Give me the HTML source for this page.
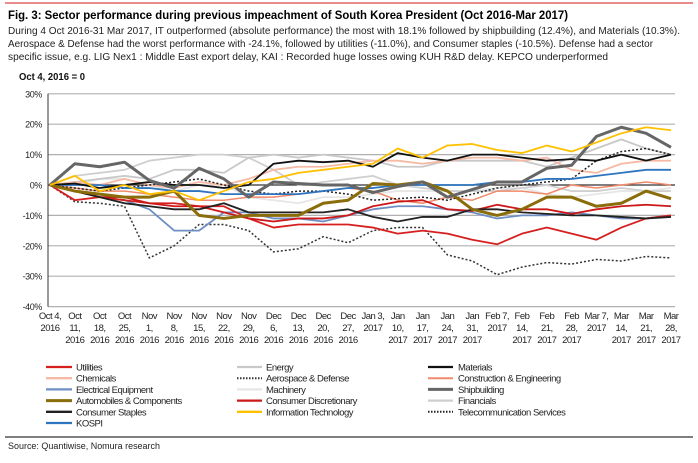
<!DOCTYPE html>
<html><head><meta charset="utf-8"><style>
body{margin:0;background:#fff;width:698px;height:458px;overflow:hidden;font-family:"Liberation Sans",Arial,sans-serif;}
</style></head><body>
<svg id="chart" width="698" height="458" xmlns="http://www.w3.org/2000/svg" font-family="Liberation Sans, Arial, sans-serif">
<line x1="5" y1="3" x2="693" y2="3" stroke="#e06666" stroke-width="1.5"/>
<text x="8" y="19" font-size="12" font-weight="bold" fill="#000" textLength="560" lengthAdjust="spacingAndGlyphs">Fig. 3: Sector performance during previous impeachment of South Korea President (Oct 2016-Mar 2017)</text>
<g font-size="10" fill="#222">
<text x="8" y="34" textLength="672" lengthAdjust="spacingAndGlyphs">During 4 Oct 2016-31 Mar 2017, IT outperformed (absolute performance) the most with 18.1% followed by shipbuilding (12.4%), and Materials (10.3%).</text>
<text x="8" y="47" textLength="645" lengthAdjust="spacingAndGlyphs">Aerospace &amp; Defense had the worst performance with -24.1%, followed by utilities (-11.0%), and Consumer staples (-10.5%). Defense had a sector</text>
<text x="8" y="60" textLength="600" lengthAdjust="spacingAndGlyphs">specific issue, e.g. LIG Nex1 : Middle East export delay, KAI : Recorded huge losses owing KUH R&amp;D delay.  KEPCO underperformed</text>
</g>
<text x="19" y="80" font-size="10" font-weight="bold" fill="#111" textLength="66" lengthAdjust="spacingAndGlyphs">Oct 4, 2016 = 0</text>
<g id="grid"></g><g id="yticks"></g><g id="xticks"></g><g id="series"></g><g id="legend"></g>
<line x1="5" y1="437" x2="693" y2="437" stroke="#555" stroke-width="1.5"/>
<text x="8" y="449" font-size="9" fill="#222" textLength="152" lengthAdjust="spacingAndGlyphs">Source: Quantiwise, Nomura research</text>
</svg>
<script>
const yTicks=[30,20,10,0,-10,-20,-30,-40];
const yTickLabels=["30%","20%","10%","0%","-10%","-20%","-30%","-40%"];
const xLabels=[["Oct 4,","2016"],["Oct","11,","2016"],["Oct","18,","2016"],["Oct","25,","2016"],["Nov","1,","2016"],["Nov","8,","2016"],["Nov","15,","2016"],["Nov","22,","2016"],["Nov","29,","2016"],["Dec","6,","2016"],["Dec","13,","2016"],["Dec","20,","2016"],["Dec","27,","2016"],["Jan 3,","2017"],["Jan","10,","2017"],["Jan","17,","2017"],["Jan","24,","2017"],["Jan","31,","2017"],["Feb 7,","2017"],["Feb","14,","2017"],["Feb","21,","2017"],["Feb","28,","2017"],["Mar 7,","2017"],["Mar","14,","2017"],["Mar","21,","2017"],["Mar","28,","2017"]];
const seriesNames=["Utilities","Energy","Materials","Chemicals","Aerospace & Defense","Construction & Engineering","Electrical Equipment","Machinery","Shipbuilding","Automobiles & Components","Consumer Discretionary","Financials","Consumer Staples","Information Technology","Telecommunication Services","KOSPI"];
const utilities=[0,-5,-4,-5,-6,-6,-7,-7,-11,-14,-13,-13,-13,-14,-16,-15,-16,-18,-19.5,-16,-14,-16,-18,-14,-11,-10];
const energy=[0,1,2,3,2,5,5,4,9,10,9,10,9,8,6,6,8,8,8,8,6,9,12,15,12,10];
const materials=[0,0.5,-1,0,1,0,0,-1,0,7,8,7.5,8,6,10.5,9,8,10,10,9,8,8.5,8,10,8,10];
const chemicals=[0,1,0,2,0,-1,1,0,2,5,6,6,7,8,8,7,8,9,9,8,9,5,4,7,8,8];
const aerospace=[0,-5.5,-6,-7,-24,-20,-13,-13,-15,-22,-21,-17,-19,-15,-14,-14,-23,-25,-29.5,-27,-25.5,-26,-24.5,-25,-23.5,-24];
const construction=[0,-1,-2,-2,-3,-4,-5,-5,-4,-4,-3,-2,-1,-2,-5,-6,-4,-5,-2,-2,-3,0,-1,0,1,0];
const electrical=[0,-2,-4,-5,-8,-15,-15,-9,-9,-11,-11,-12,-10,-8,-7,-7,-8,-9,-11,-10,-10,-9,-10,-11,-11,-10];
const machinery=[0,0,2,2,0,-2,0,0,-4,-5,-6,-4,-4,-3,-2,-2,-2,-2,-1,-1,-3,-4,-3,-2,-2,-1];
const shipbuilding=[0,7,6,7.5,1.5,-1,5.5,2,-4,1,0.5,0,0,-2.5,-0.5,1,-4,-1.5,1,1,5.5,6.5,16,19,17,12.4];
const autos=[0,-2,-3,-4,-4,-2,-10,-11,-10,-10,-10,-6,-5,0.5,0,1,-2,-8,-10,-8,-4,-4,-7,-6,-2,-4.5];
const discretionary=[0,-2,-4,-4,-6,-7,-7,-9,-11,-12,-11,-11,-10,-7,-5.5,-5,-8,-8.5,-6.5,-8,-8,-9.5,-8,-7,-6.5,-7];
const financials=[0,3,4,5,8,9,10,10,9,5,0,1,2,3,0,-1,-2,-2,-2,-1,0,-2,-2,-1,-2,-2];
const staples=[0,-2,-4,-6,-7,-8,-8,-6,-9,-9,-9,-9,-8,-10.5,-12,-10.5,-10.5,-8,-8,-9,-9.5,-10,-10,-10.5,-11,-10.5];
const infotech=[0,3,-2,0,-3,-2,-5,-2,1,2,4,5,6,7,12,9,13,13.5,11.5,10.5,13,11,14,17,19,18];
const telecom=[0,-1,-2,-1,0,1,2,0,-2,-3,-2,-2,-3,-5,-4.5,-4,-5,-3,-1,0,1,2,8,11,12,10];
const kospi=[0,0,0,-1,-1,-2,-2,-3,-3,-3,-3,-2,-1,-1,0,0,0,0,1,1,2,2,3,4,5,5];

const NS="http://www.w3.org/2000/svg";
const X0=50,X1=671,Y0=185,PX=3.04;
function xs(i){return X0+(X1-X0)*i/25;}
function ys(v){return Y0-v*PX;}
function mk(tag,attrs,parent){const e=document.createElementNS(NS,tag);for(const k in attrs)e.setAttribute(k,attrs[k]);parent.appendChild(e);return e;}
const grid=document.getElementById('grid'),yt=document.getElementById('yticks'),xt=document.getElementById('xticks'),sg=document.getElementById('series'),lg=document.getElementById('legend');
yTicks.forEach((v,k)=>{
  const g=mk('line',{x1:48,x2:675,y1:ys(v),y2:ys(v),stroke:v===0?'#333':'#b0b0b0','stroke-width':1.2},grid);
  
  
  const t=mk('text',{x:42,y:ys(v)+3.5,'font-size':9,'text-anchor':'end',fill:'#222','letter-spacing':'-0.4'},yt);
  t.textContent=yTickLabels[k];
  
  
});
const ax=mk('line',{x1:48,x2:48,y1:ys(30),y2:ys(-40),stroke:'#333','stroke-width':1},grid);


xLabels.forEach((lines,i)=>{
  const t=mk('text',{x:xs(i),y:319,'font-size':9.5,'text-anchor':'middle',fill:'#222','letter-spacing':'-0.5'},xt);
  
  
  lines.forEach((s,j)=>{const ts=mk('tspan',{x:xs(i),dy:j===0?0:12},t);ts.textContent=s;});
});
const styles=[
 {d:utilities,c:'#d62020',w:1.8},{d:energy,c:'#c8c8c8',w:1.8},{d:materials,c:'#111',w:1.8},
 {d:chemicals,c:'#f5b9a4',w:1.8},{d:aerospace,c:'#333',w:1.5,dash:'2,2'},{d:construction,c:'#f08a6a',w:1.5},
 {d:electrical,c:'#6f8fc4',w:1.8},{d:machinery,c:'#e6e6e6',w:1.8},{d:shipbuilding,c:'#666',w:3},
 {d:autos,c:'#8a6d0a',w:3},{d:discretionary,c:'#cc1818',w:1.8},{d:financials,c:'#cfcfcf',w:1.8},
 {d:staples,c:'#222',w:1.8},{d:infotech,c:'#ffc000',w:1.8},{d:telecom,c:'#222',w:1.5,dash:'2,2'},{d:kospi,c:'#2e75c0',w:1.8}];
const drawOrder=[7,11,1,3,5,14,4,6,15,0,10,12,2,9,8,13];
drawOrder.forEach(k=>{
  const s=styles[k];
  const p=mk('polyline',{points:s.d.map((v,i)=>xs(i)+','+ys(v)).join(' '),fill:'none',stroke:s.c,'stroke-width':s.w,'stroke-linejoin':'round'},sg);
  if(s.dash)p.setAttribute('stroke-dasharray',s.dash);
  
  
});
const colX=[[46,72,76],[237,262,266],[428,453,458]];
seriesNames.forEach((n,k)=>{
  const col=k%3,row=Math.floor(k/3),y=370+row*11.2,s=styles[k];
  const l=mk('line',{x1:colX[col][0],x2:colX[col][1],y1:y-3,y2:y-3,stroke:s.c,'stroke-width':Math.min(s.w+0.5,3)},lg);
  if(s.dash)l.setAttribute('stroke-dasharray','1.5,1.5');
  
  
  const t=mk('text',{x:colX[col][2],y:y+0.5,'font-size':9.5,fill:'#222','letter-spacing':'-0.5'},lg);
  t.textContent=n;
  
  
});
</script>
</body></html>
